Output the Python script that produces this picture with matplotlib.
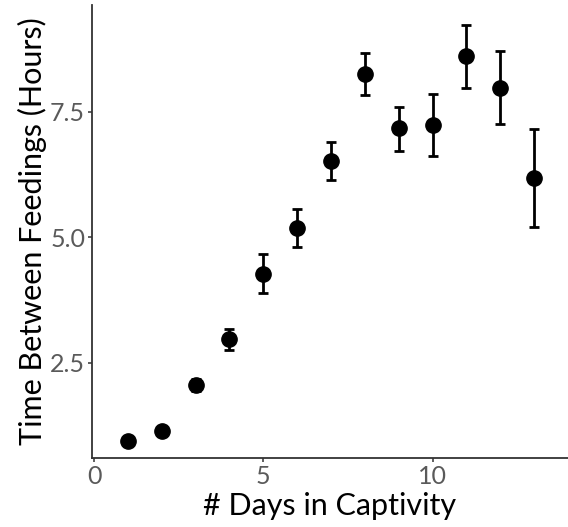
import matplotlib
matplotlib.use('Agg')
import matplotlib.pyplot as plt
import numpy as np

# Data
days = [1, 2, 3, 4, 5, 6, 7, 8, 9, 10, 11, 12, 13]
hours = [0.95, 1.15, 2.06, 2.97, 4.28, 5.18, 6.52, 8.26, 7.17, 7.24, 8.61, 7.98, 6.18]
err_low = [0.95, 1.15, 1.94, 2.76, 3.89, 4.80, 6.14, 7.84, 6.72, 6.61, 7.98, 7.25, 5.21]
err_high = [0.95, 1.15, 2.18, 3.17, 4.67, 5.56, 6.90, 8.67, 7.59, 7.85, 9.23, 8.71, 7.15]
xticks = [0, 5, 10]
yticks = [2.5, 5.0, 7.5]

plt.rcParams['font.family'] = ['Lato', 'DejaVu Sans']

fig = plt.figure(figsize=(5.68, 5.27), dpi=100)
ax = fig.add_axes([0.162, 0.131, 0.838, 0.86])

yerr = [np.array(hours) - np.array(err_low), np.array(err_high) - np.array(hours)]
ax.errorbar(days, hours, yerr=yerr, fmt='o', color='black', ms=11,
            elinewidth=2, capsize=3.5, capthick=2)

ax.set_xlim(-0.06, 14.0)
ax.set_ylim(0.61, 9.63)
ax.set_xticks(xticks)
ax.set_xticklabels([str(t) for t in xticks])
ax.set_yticks(yticks)
ax.set_yticklabels(['%.1f' % t for t in yticks])

for side in ['top', 'right']:
    ax.spines[side].set_visible(False)
for side in ['left', 'bottom']:
    ax.spines[side].set_linewidth(1.3)
    ax.spines[side].set_color('#333333')

ax.tick_params(axis='both', colors='#333333', length=3, width=1.1,
               labelsize=18, labelcolor='#5a5a5a', pad=2)
ax.set_xlabel('# Days in Captivity', fontsize=22, labelpad=3)
ax.set_ylabel('Time Between Feedings (Hours)', fontsize=22, labelpad=2)

fig.savefig('out.png', dpi=100)
